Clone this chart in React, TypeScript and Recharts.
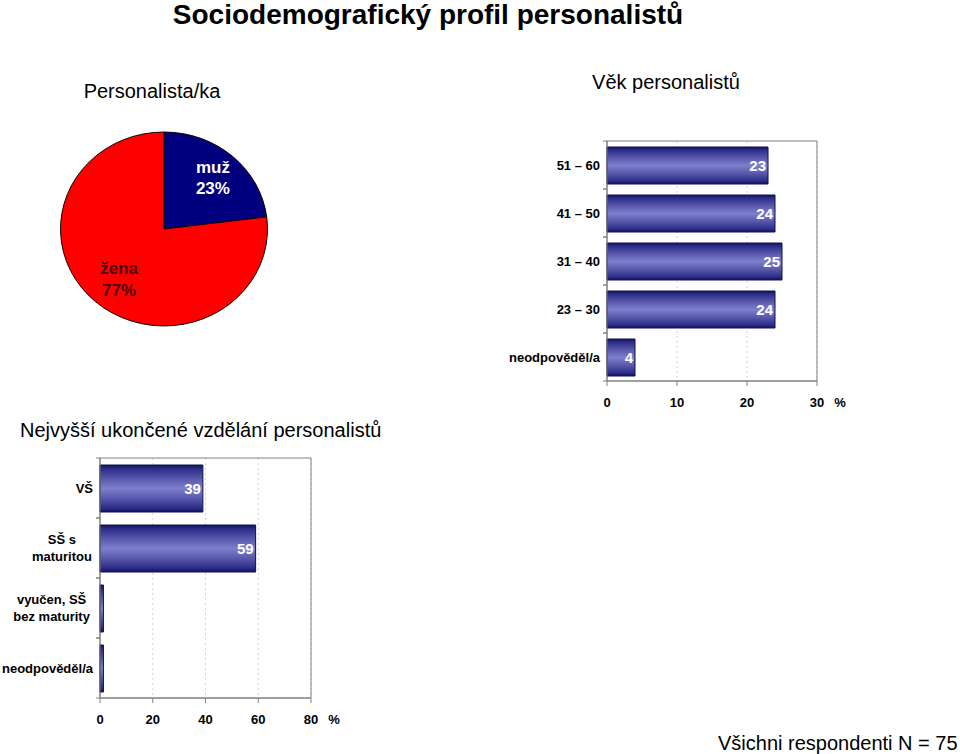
import React from 'react';
import {
  BarChart, Bar, XAxis, YAxis, CartesianGrid, ReferenceArea, LabelList,
  PieChart, Pie, Cell,
} from 'recharts';

// ---- data ----
const genderLabels = ['muž', 'žena'];
const genderValues = [23, 77];

const ageCategories = ['51 – 60', '41 – 50', '31 – 40', '23 – 30', 'neodpověděl/a'];
const ageValues = [23, 24, 25, 24, 4];
const ageTicks = [0, 10, 20, 30];

const eduCategories = ['VŠ', 'SŠ s\nmaturitou', 'vyučen, SŠ\nbez maturity', 'neodpověděl/a'];
const eduValues = [39, 59, 1.3, 1.3];
const eduTicks = [0, 20, 40, 60, 80];

const genderData = genderLabels.map((name, i) => ({ name, value: genderValues[i] }));
const ageData = ageCategories.map((name, i) => ({ name, value: ageValues[i] }));
const eduData = eduCategories.map((name, i) => ({ name, value: eduValues[i] }));

const FONT = 'Arial, "Liberation Sans", Helvetica, sans-serif';
const AXIS_GRAY = '#808080';

const makeCatTick = (band: number) => (props: any) => {
  const { x, y, payload } = props;
  const lines = String(payload.value).split('\n');
  const axisX = x + 7;
  const boundary = (
    <>
      <line x1={axisX - 4} x2={axisX} y1={y - band / 2} y2={y - band / 2} stroke={AXIS_GRAY} />
      <line x1={axisX - 4} x2={axisX} y1={y + band / 2} y2={y + band / 2} stroke={AXIS_GRAY} />
    </>
  );
  if (lines.length === 1) {
    return (
      <g>
        {boundary}
        <text x={x} y={y} dy="0.36em" textAnchor="end" fontFamily={FONT} fontWeight="bold" fontSize={13} fill="#000">
          {lines[0]}
        </text>
      </g>
    );
  }
  const maxLen = Math.max(...lines.map((l) => l.length));
  const cx = x - (maxLen * 6.9) / 2;
  return (
    <g>
      {boundary}
      <text textAnchor="middle" fontFamily={FONT} fontWeight="bold" fontSize={13} fill="#000">
        {lines.map((l, i) => (
          <tspan key={i} x={cx} y={y + (i - (lines.length - 1) / 2) * 17} dy="0.36em">
            {l}
          </tspan>
        ))}
      </text>
    </g>
  );
};

const makeXTick = (maxVal: number) => (props: any) => {
  const { x, y, payload } = props;
  return (
    <g>
      <text x={x} y={y} dy="0.71em" textAnchor="middle" fontFamily={FONT} fontWeight="bold" fontSize={13} fill="#000">
        {payload.value}
      </text>
      {payload.value === maxVal && (
        <text x={x + 23} y={y} dy="0.71em" textAnchor="middle" fontFamily={FONT} fontWeight="bold" fontSize={13} fill="#000">
          %
        </text>
      )}
    </g>
  );
};

const RAD = Math.PI / 180;
const renderPieLabel = (props: any) => {
  const { cx, cy, midAngle, outerRadius, name, value, index } = props;
  const r = outerRadius * 0.7;
  const x = cx + r * Math.cos(-midAngle * RAD);
  const y = cy + r * Math.sin(-midAngle * RAD);
  const fill = index === 0 ? '#ffffff' : '#4a0000';
  return (
    <text textAnchor="middle" fontFamily={FONT} fontWeight="bold" fontSize={17} fill={fill}>
      <tspan x={x + (index === 0 ? 1 : 3)} y={y - 12} dy="0.36em">{name}</tspan>
      <tspan x={x + (index === 0 ? 1 : 3)} y={y + 11} dy="0.36em">{`${value}%`}</tspan>
    </text>
  );
};

const labelFormatter = (v: any) => (Number(v) >= 2 ? v : '');

export default function App() {
  return (
    <div
      style={{
        position: 'absolute', left: 0, top: 0, width: 960, height: 754,
        background: '#fff', fontFamily: FONT, overflow: 'hidden',
      }}
    >
      <svg width={0} height={0} style={{ position: 'absolute' }}>
        <defs>
          <linearGradient id="barGrad" x1="0" y1="0" x2="0" y2="1">
            <stop offset="0%" stopColor="#12125a" />
            <stop offset="8%" stopColor="#2c2c88" />
            <stop offset="30%" stopColor="#5a5aae" />
            <stop offset="50%" stopColor="#7e7eca" />
            <stop offset="70%" stopColor="#5a5aae" />
            <stop offset="92%" stopColor="#2c2c88" />
            <stop offset="100%" stopColor="#12125a" />
          </linearGradient>
        </defs>
      </svg>

      {/* Titles */}
      <div style={{ position: 'absolute', left: 0, top: 0, width: 856, textAlign: 'center', fontSize: 28, fontWeight: 'bold', lineHeight: '30px' }}>
        Sociodemografický profil personalistů
      </div>
      <div style={{ position: 'absolute', left: 52, top: 81, width: 200, textAlign: 'center', fontSize: 20, lineHeight: '21px' }}>
        Personalista/ka
      </div>
      <div style={{ position: 'absolute', left: 566, top: 72, width: 200, textAlign: 'center', fontSize: 20, lineHeight: '21px' }}>
        Věk personalistů
      </div>
      <div style={{ position: 'absolute', left: 20, top: 420, whiteSpace: 'nowrap', fontSize: 20, lineHeight: '21px' }}>
        Nejvyšší ukončené vzdělání personalistů
      </div>
      <div style={{ position: 'absolute', left: 718, top: 733, whiteSpace: 'nowrap', fontSize: 20, lineHeight: '21px' }}>
        Všichni respondenti N = 75
      </div>

      {/* Pie */}
      <div style={{ position: 'absolute', left: 44, top: 109, width: 240, height: 240, transform: 'scaleY(0.937)' }}>
        <PieChart width={240} height={240} margin={{ top: 0, right: 0, bottom: 0, left: 0 }}>
          <Pie
            data={genderData}
            dataKey="value"
            nameKey="name"
            cx={120}
            cy={120}
            outerRadius={103.5}
            startAngle={90}
            endAngle={-270}
            stroke="#000"
            strokeWidth={1}
            labelLine={false}
            label={renderPieLabel}
            isAnimationActive={false}
          >
            <Cell fill="#00007f" />
            <Cell fill="#ff0000" />
          </Pie>
        </PieChart>
      </div>

      {/* Age bar chart */}
      <div style={{ position: 'absolute', left: 500, top: 130 }}>
        <BarChart width={360} height={290} layout="vertical" data={ageData} margin={{ top: 11, right: 43, bottom: 9, left: 0 }}>
          <CartesianGrid horizontal={false} strokeDasharray="2 3" stroke="#d4d4d4" />
          <ReferenceArea x1={0} x2={30} fill="none" stroke={AXIS_GRAY} ifOverflow="visible" />
          <XAxis
            type="number"
            domain={[0, 30]}
            ticks={ageTicks}
            interval={0}
            height={30}
            tickSize={5}
            tickMargin={12}
            stroke={AXIS_GRAY}
            tick={makeXTick(30)}
          />
          <YAxis
            type="category"
            dataKey="name"
            width={107}
            interval={0}
            tickLine={false}
            tickSize={4}
            tickMargin={3}
            stroke={AXIS_GRAY}
            tick={makeCatTick(48)}
          />
          <Bar dataKey="value" barSize={37} fill="url(#barGrad)" stroke="#10104e" strokeWidth={1} isAnimationActive={false}>
            <LabelList dataKey="value" position="insideRight" offset={2} fill="#ffffff" fontFamily={FONT} fontWeight="bold" fontSize={15} formatter={labelFormatter} />
          </Bar>
        </BarChart>
      </div>

      {/* Education bar chart */}
      <div style={{ position: 'absolute', left: 0, top: 450 }}>
        <BarChart width={360} height={300} layout="vertical" data={eduData} margin={{ top: 8, right: 49, bottom: 22, left: 0 }}>
          <CartesianGrid horizontal={false} strokeDasharray="2 3" stroke="#d4d4d4" />
          <ReferenceArea x1={0} x2={80} fill="none" stroke={AXIS_GRAY} ifOverflow="visible" />
          <XAxis
            type="number"
            domain={[0, 80]}
            ticks={eduTicks}
            interval={0}
            height={30}
            tickSize={5}
            tickMargin={12}
            stroke={AXIS_GRAY}
            tick={makeXTick(80)}
          />
          <YAxis
            type="category"
            dataKey="name"
            width={100}
            interval={0}
            tickLine={false}
            tickSize={4}
            tickMargin={3}
            stroke={AXIS_GRAY}
            tick={makeCatTick(60)}
          />
          <Bar dataKey="value" barSize={47} fill="url(#barGrad)" stroke="#10104e" strokeWidth={1} isAnimationActive={false}>
            <LabelList dataKey="value" position="insideRight" offset={2} fill="#ffffff" fontFamily={FONT} fontWeight="bold" fontSize={15} formatter={labelFormatter} />
          </Bar>
        </BarChart>
      </div>
    </div>
  );
}
